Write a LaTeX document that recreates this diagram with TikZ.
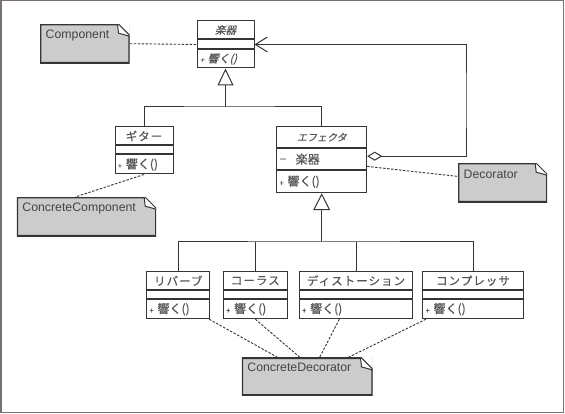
\documentclass[tikz,border=0pt]{standalone}
\usepackage{fontspec}
\setmainfont{Liberation Sans}
\newfontfamily\jpfont[LetterSpace=9, FakeBold=0.25]{Noto Sans CJK JP}
\newfontfamily\jpplain[FakeBold=0.25]{Noto Sans CJK JP}
\newfontfamily\jpslant[FakeSlant=0.25, FakeBold=0.25]{Noto Sans CJK JP}
\usetikzlibrary{positioning, arrows.meta}
\usepackage{xcolor}
\definecolor{linec}{HTML}{3A3430}
\definecolor{notec}{HTML}{CCCCCC}
\definecolor{txtc}{HTML}{555555}
\definecolor{framec}{HTML}{7A716D}

\begin{document}
\begin{tikzpicture}[x=1pt, y=-1pt,
        cname/.style={draw=linec, line width=1pt, fill=white, inner sep=0pt, minimum height=18pt, text=txtc, font=\jpfont\fontsize{11.5}{11.5}\selectfont},
        cattr/.style={draw=linec, line width=1pt, fill=white, inner sep=0pt, minimum height=8pt},
        cops/.style={draw=linec, line width=1pt, fill=white, inner xsep=3pt, inner ysep=0pt, minimum height=19pt, align=left, text=txtc, font=\jpplain\fontsize{12}{12}\selectfont},
        wire/.style={draw=linec, line width=1pt},
        link/.style={draw=linec, line width=0.9pt, dash pattern=on 2.5pt off 1.5pt},
        note/.style={fill=notec, text=txtc!80!black, font=\fontsize{12.3}{12.3}\selectfont, inner xsep=5.5pt, inner ysep=0pt, text height=14pt, align=left, anchor=north west,
            path picture={
                \fill[white] ([xshift=-12pt]path picture bounding box.north east) -- (path picture bounding box.north east) -- ([yshift=-12pt]path picture bounding box.north east) -- cycle;
                \draw[linec, line width=2.4pt] (path picture bounding box.north west) -- ([xshift=-12pt]path picture bounding box.north east) -- ([yshift=-12pt]path picture bounding box.north east) -- (path picture bounding box.south east) -- (path picture bounding box.south west) -- cycle;
                \draw[linec, line width=1pt, fill=white] ([xshift=-12pt]path picture bounding box.north east) -- ([xshift=-11pt, yshift=-9pt]path picture bounding box.north east) -- ([yshift=-12pt]path picture bounding box.north east);
            }}]
    \useasboundingbox[fill=white] (0,0) rectangle (565,414);
    \draw[framec, line width=1.5pt] (0.75,0.75) rectangle (563.5,412.5);

    \node[cname, minimum width=57pt, font=\jpslant\fontsize{10.5}{10.5}\selectfont] (gk) at (225.5,30) {楽器};
    \node[cattr, minimum width=57pt, minimum height=9pt, below=0pt of gk] (gka) {};
    \node[cops, text width=51pt, minimum height=18pt, below=0pt of gka, font=\jpslant\fontsize{11}{11}\selectfont] (gko) {{\fontsize{7}{7}\selectfont+} 響く()};

    \node[cname, minimum width=58pt] (gt) at (144,136) {ギター};
    \node[cattr, minimum width=58pt, below=0pt of gt] (gta) {};
    \node[cops, text width=52pt, below=0pt of gta] (gto) {{\fontsize{7}{7}\selectfont+} 響く()};

    \node[cname, minimum width=90pt, minimum height=21pt, font=\jpslant\fontsize{10}{10}\selectfont] (ef) at (321.7,137.2) {エフェクタ};
    \node[cops, text width=84pt, minimum height=21pt, below=0pt of ef] (efa) {{\rmfamily −}\hspace{9pt}楽器};
    \node[cops, text width=84pt, minimum height=22pt, below=0pt of efa] (efo) {{\fontsize{7}{7}\selectfont+} 響く()};

    \node[cname, minimum width=63.3pt] (rv) at (178.3,280.7) {リバーブ};
    \node[cattr, minimum width=63.3pt, below=0pt of rv] (rva) {};
    \node[cops, text width=57.3pt, below=0pt of rva] (rvo) {{\fontsize{7}{7}\selectfont+} 響く()};

    \node[cname, minimum width=64pt] (ch) at (255.3,280.7) {コーラス};
    \node[cattr, minimum width=64pt, below=0pt of ch] (cha) {};
    \node[cops, text width=58pt, below=0pt of cha] (cho) {{\fontsize{7}{7}\selectfont+} 響く()};

    \node[cname, minimum width=113.4pt] (ds) at (356,280.7) {ディストーション};
    \node[cattr, minimum width=113.4pt, below=0pt of ds] (dsa) {};
    \node[cops, text width=107.4pt, below=0pt of dsa] (dso) {{\fontsize{7}{7}\selectfont+} 響く()};

    \node[cname, minimum width=100.6pt] (cp) at (473,280.7) {コンプレッサ};
    \node[cattr, minimum width=100.6pt, below=0pt of cp] (cpa) {};
    \node[cops, text width=94.6pt, below=0pt of cpa] (cpo) {{\fontsize{7}{7}\selectfont+} 響く()};

    \node[note, text width=78.3pt, text depth=25pt] (ncomp) at (40,24) {Component};
    \node[note, text width=128.3pt, text depth=25pt] (nccomp) at (16.7,197) {ConcreteComponent};
    \node[note, text width=78pt, text height=15.5pt, text depth=23.5pt] (ndeco) at (458,163) {Decorator};
    \node[note, text width=119.6pt, text depth=23.3pt] (ncdeco) at (241.7,357.7) {ConcreteDecorator};

    \coordinate (topbus) at (225.5,107);
    \coordinate (lowbus) at (321.7,242);
    \coordinate (ret) at (466,100);

    \draw[wire, -{Triangle[open, length=17pt, width=16pt]}] (topbus) -- (gko.south);
    \draw[wire] (gt.north) |- (topbus) -| (ef.north);
    \draw[wire, -{Triangle[open, length=17pt, width=17pt]}] (lowbus) -- (efo.south);
    \draw[wire] (rv.north) |- (lowbus) -| (cp.north);
    \draw[wire] (ch.north) -- (ch.north |- lowbus);
    \draw[wire] (ds.north) -- (ds.north |- lowbus);
    \draw[wire, {Diamond[open, length=15pt, width=9pt]}-{Straight Barb[length=12pt, width=15pt]}] ([yshift=3pt]efa.east) -| (ret) |- (gka.east);

    \draw[link] (ncomp.east) -- (gka.west);
    \draw[link] (gto.south) -- (nccomp.120);
    \draw[link] (efa.-9) -- (ndeco.172);
    \draw[link] (rvo.-18) -- (ncdeco.147);
    \draw[link] (cho.south) -- (ncdeco.110);
    \draw[link] (dso.211) -- (ncdeco.57);
    \draw[link] (cpo.192) -- (ncdeco.25);
\end{tikzpicture}
\end{document}
